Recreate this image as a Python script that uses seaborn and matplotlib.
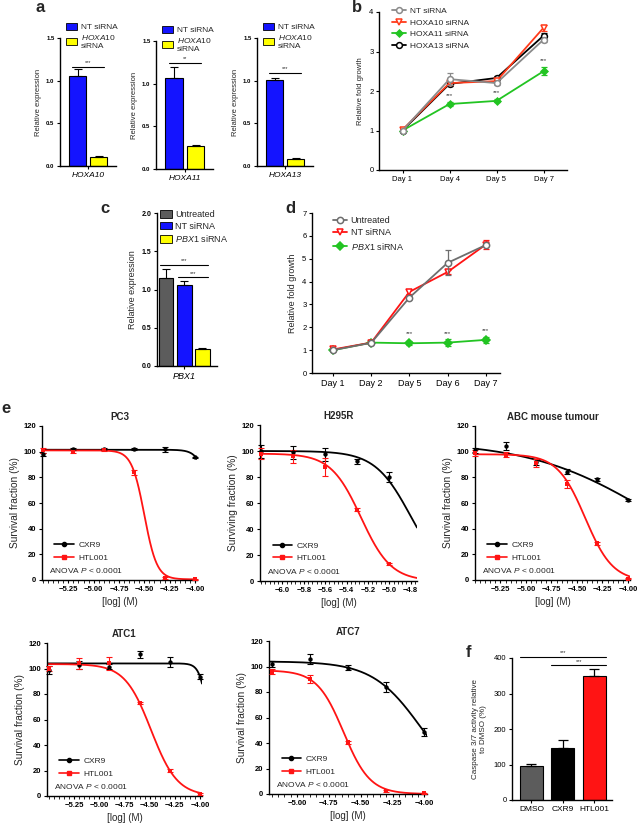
import numpy as np
import pandas as pd
import matplotlib
matplotlib.use("Agg")
import matplotlib.pyplot as plt
import seaborn as sns
from matplotlib.lines import Line2D
from matplotlib.patches import Patch
from matplotlib.container import BarContainer
from matplotlib.ticker import MultipleLocator

sns.set_theme(style="ticks")
plt.rcParams["font.family"] = ["Liberation Sans", "DejaVu Sans"]
plt.rcParams["mathtext.fontset"] = "custom"
plt.rcParams["mathtext.rm"] = "Liberation Sans"
plt.rcParams["mathtext.it"] = "Liberation Sans:italic"
plt.rcParams["mathtext.bf"] = "Liberation Sans:bold"
plt.rcParams["axes.unicode_minus"] = True

# ---------------- data ----------------
# panel a
a_genes = ["HOXA10", "HOXA11", "HOXA13"]
a_conditions = ["NT siRNA", "HOXA10 siRNA"]
a_nt = [1.06, 1.07, 1.01]
a_nt_err = [0.08, 0.13, 0.02]
a_kd = [0.11, 0.27, 0.08]
a_kd_err = [0.006, 0.006, 0.015]
a_sig = ["***", "**", "***"]
a_sig_y = [1.16, 1.24, 1.09]
a_yticks = [0.0, 0.5, 1.0, 1.5]

# panel b
b_days = ["Day 1", "Day 4", "Day 5", "Day 7"]
b_series = ["NT siRNA", "HOXA10 siRNA", "HOXA11 siRNA", "HOXA13 siRNA"]
b_nt = [1.0, 2.3, 2.2, 3.3]
b_nt_err = [0.02, 0.15, 0.05, 0.05]
b_hoxa10 = [1.02, 2.2, 2.25, 3.6]
b_hoxa10_err = [0.02, 0.05, 0.05, 0.08]
b_hoxa11 = [1.0, 1.67, 1.75, 2.5]
b_hoxa11_err = [0.02, 0.04, 0.04, 0.1]
b_hoxa13 = [1.0, 2.18, 2.33, 3.4]
b_hoxa13_err = [0.02, 0.05, 0.04, 0.06]
b_sig_pos = [1, 2, 3]
b_sig_y = [1.82, 1.9, 2.7]

# panel c
c_gene = "PBX1"
c_conditions = ["Untreated", "NT siRNA", "PBX1 siRNA"]
c_vals = [1.15, 1.06, 0.22]
c_err = [0.12, 0.05, 0.02]
c_sig_y = [1.32, 1.16]

# panel d
d_days = ["Day 1", "Day 2", "Day 5", "Day 6", "Day 7"]
d_series = ["Untreated", "NT siRNA", "PBX1 siRNA"]
d_untreated = [1.0, 1.32, 3.3, 4.82, 5.6]
d_untreated_err = [0.03, 0.03, 0.05, 0.55, 0.06]
d_nt = [1.03, 1.33, 3.55, 4.42, 5.62]
d_nt_err = [0.05, 0.03, 0.1, 0.1, 0.2]
d_pbx1 = [1.0, 1.33, 1.3, 1.33, 1.45]
d_pbx1_err = [0.03, 0.03, 0.08, 0.15, 0.12]
d_sig_pos = [2, 3, 4]
d_sig_y = [1.62, 1.62, 1.75]

# panel e  (fit parameters: top, bottom, logIC50, hill slope)
pc3_x = [-5.5, -5.2, -4.9, -4.6, -4.3, -4.0]
pc3_cxr9 = [98, 102, 102, 102, 102, 95.5]
pc3_cxr9_err = [1, 1, 1, 0.5, 2, 0.5]
pc3_htl = [101, 100, 101, 84, 1.5, 0.5]
pc3_htl_err = [2, 1, 0.5, 2, 0.5, 0.5]
pc3_fit_cxr9 = (101.5, 0, -3.83, 7.5)
pc3_fit_htl = (101, 0.5, -4.5, 7.0)

h295_x = [-6.2, -5.9, -5.6, -5.3, -5.0]
h295_cxr9 = [100, 99, 97.5, 92, 80]
h295_cxr9_err = [5, 5, 5, 2, 4]
h295_htl = [98, 96, 87.5, 55, 13]
h295_htl_err = [4, 5, 7, 1, 1]
h295_fit_cxr9 = (100, 0, -4.8, 2.6)
h295_fit_htl = (98, 0, -5.265, 3.08)

abc_x = [-5.5, -5.2, -4.9, -4.6, -4.3, -4.0]
abc_cxr9 = [101, 104.5, 92, 84.5, 78.5, 62.5]
abc_cxr9_err = [2, 3, 2, 2, 1, 1]
abc_htl = [99, 97.5, 91, 75, 28.5, 1]
abc_htl_err = [2, 2, 3, 3, 1, 0.5]
abc_fit_cxr9 = (108, 0, -3.8, 0.74)
abc_fit_htl = (98, -1, -4.42, 3.2)

atc1_x = [-5.5, -5.2, -4.9, -4.6, -4.3, -4.0]
atc1_cxr9 = [99, 103, 101.5, 111, 105, 93.5]
atc1_cxr9_err = [3, 3, 2, 3, 4, 2]
atc1_htl = [100, 104, 104, 73, 20, 1.5]
atc1_htl_err = [2, 4, 5, 1, 1, 0.5]
atc1_fit_cxr9 = (104, 0, -3.909, 10.5)
atc1_fit_htl = (103.5, 0, -4.486, 3.33)

atc7_x = [-5.2, -4.9, -4.6, -4.3, -4.0]
atc7_cxr9 = [102, 106, 99, 84, 48.5]
atc7_cxr9_err = [2, 4, 2, 4, 3]
atc7_htl = [96, 90, 40.5, 2.5, 0.5]
atc7_htl_err = [2, 3, 1, 1, 0.5]
atc7_fit_cxr9 = (104, 0, -4.026, 2.27)
atc7_fit_htl = (97, 0, -4.635, 4.18)

e_xticks = [-5.25, -5.0, -4.75, -4.5, -4.25, -4.0]
h295_xticks = [-6.0, -5.8, -5.6, -5.4, -5.2, -5.0, -4.8]
atc7_xticks = [-5.0, -4.75, -4.5, -4.25, -4.0]
e_yticks = [0, 20, 40, 60, 80, 100, 120]

# panel f
f_groups = ["DMSO", "CXR9", "HTL001"]
f_vals = [97, 147, 348]
f_err = [4, 22, 20]
f_sig_y = [403, 380]
f_yticks = [0, 100, 200, 300, 400]

# ---------------- styling ----------------
BLUE = "#1414ff"
YELLOW = "#ffff00"
GREY = "#5c5c5c"
RED = "#ff1414"
ORANGE_RED = "#ff3a1a"
GREEN = "#22c422"
LGREY = "#8a8a8a"

W, H = 640, 825
fig = plt.figure(figsize=(W / 100, H / 100), dpi=100)


def add_ax(l, t, r, b):
    ax = fig.add_axes([l / W, 1 - b / H, (r - l) / W, (b - t) / H])
    sns.despine(ax=ax)
    for s in ("left", "bottom"):
        ax.spines[s].set_linewidth(1.0)
        ax.spines[s].set_color("black")
    ax.tick_params(direction="out", length=2.5, width=0.8, colors="black", pad=1.5)
    return ax


def bar_list(ax):
    return [p for c in ax.containers if isinstance(c, BarContainer) for p in c]


def bold_ticks(ax):
    for lbl in ax.get_xticklabels() + ax.get_yticklabels():
        lbl.set_fontweight("bold")


def hill(x, top, bottom, logic50, slope):
    return bottom + (top - bottom) / (1 + 10 ** ((np.asarray(x) - logic50) * slope))


# ---------------- panel a ----------------
a_boxes = [(60, 38, 116, 166), (156, 41, 213, 169), (257, 38, 313, 166)]
for i, gene in enumerate(a_genes):
    ax = add_ax(*a_boxes[i])
    df = pd.DataFrame({"gene": [gene, gene], "cond": a_conditions,
                       "val": [a_nt[i], a_kd[i]]})
    sns.barplot(data=df, x="gene", y="val", hue="cond", hue_order=a_conditions,
                palette=[BLUE, YELLOW], saturation=1, width=0.8, gap=0.2,
                edgecolor="black", linewidth=0.8, errorbar=None, legend=False, ax=ax)
    errs = [a_nt_err[i], a_kd_err[i]]
    bars = bar_list(ax)
    for bar, e in zip(bars, errs):
        xc = bar.get_x() + bar.get_width() / 2
        ax.errorbar([xc], [bar.get_height()], yerr=[[0], [e]], fmt="none",
                    ecolor="black", elinewidth=0.8, capsize=3, capthick=0.8)
    x0 = bars[0].get_x() + 0.2 * bars[0].get_width()
    x1 = bars[1].get_x() + 0.8 * bars[1].get_width()
    ax.plot([x0, x1], [a_sig_y[i]] * 2, color="black", lw=0.8)
    ax.text((x0 + x1) / 2, a_sig_y[i] + 0.02, a_sig[i], ha="center", va="bottom",
            fontsize=4)
    ax.set_ylim(0, 1.5)
    ax.set_yticks(a_yticks)
    ax.set_yticklabels([f"{v:.1f}" for v in a_yticks])
    ax.set_xlim(-0.53, 0.52)
    ax.set_xticks([0])
    ax.set_xticklabels([gene], fontstyle="italic", fontsize=6)
    ax.tick_params(axis="y", labelsize=4.3)
    for lbl in ax.get_yticklabels():
        lbl.set_fontweight("bold")
    ax.set_xlabel("")
    ax.set_ylabel("Relative expression", fontsize=5.5, labelpad=3)
    handles = [Patch(facecolor=BLUE, edgecolor="black", lw=0.6),
               Patch(facecolor=YELLOW, edgecolor="black", lw=0.6)]
    ax.legend(handles, ["NT siRNA", r"$\it{HOXA10}$" + "\nsiRNA"],
              loc="upper left", bbox_to_anchor=(0.1, 1.12), frameon=False,
              fontsize=6, handlelength=1.4, handleheight=0.9, labelspacing=0.3,
              borderpad=0, borderaxespad=0, handletextpad=0.4)

# ---------------- panel b ----------------
ax = add_ax(379, 12, 567, 170)
b_pos = np.arange(len(b_days))
b_vals = [b_nt, b_hoxa10, b_hoxa11, b_hoxa13]
b_errs = [b_nt_err, b_hoxa10_err, b_hoxa11_err, b_hoxa13_err]
b_colors = [LGREY, ORANGE_RED, GREEN, "black"]
b_markers = ["o", "v", "D", "o"]
b_mfc = ["white", "white", GREEN, "white"]
b_ms = [4.2, 4.2, 3.5, 4.2]
b_handles = []
for k in [3, 2, 1, 0]:
    ax.errorbar(b_pos, b_vals[k], yerr=b_errs[k], fmt="none", ecolor=b_colors[k],
                elinewidth=0.9, capsize=2.5, capthick=0.9)
    sns.lineplot(x=b_pos, y=b_vals[k], color=b_colors[k], marker=b_markers[k],
                 markerfacecolor=b_mfc[k], markeredgecolor=b_colors[k],
                 markeredgewidth=1.1, markersize=b_ms[k], linewidth=1.3, ax=ax)
for k in range(4):
    b_handles.append(Line2D([], [], color=b_colors[k], marker=b_markers[k],
                            mfc=b_mfc[k], mec=b_colors[k], mew=1.1, ms=b_ms[k], lw=1.3))
for p, yv in zip(b_sig_pos, b_sig_y):
    ax.text(p, yv, "***", ha="center", va="bottom", fontsize=4.5, color="#333333")
ax.set_xlim(-0.5, 3.5)
ax.set_ylim(0, 4)
ax.set_xticks(b_pos)
ax.set_xticklabels(b_days, fontsize=5.5)
ax.set_yticks([0, 1, 2, 3, 4])
ax.tick_params(axis="y", labelsize=5.5)
ax.set_ylabel("Relative fold growth", fontsize=5.5, labelpad=4)
ax.legend(b_handles, b_series, loc="upper left", bbox_to_anchor=(0.07, 1.03),
          frameon=False, fontsize=6, handlelength=1.7, labelspacing=0.45,
          borderpad=0, borderaxespad=0, handletextpad=0.4)

# ---------------- panel c ----------------
ax = add_ax(157, 213, 217, 366)
dfc = pd.DataFrame({"gene": [c_gene] * 3, "cond": c_conditions, "val": c_vals})
sns.barplot(data=dfc, x="gene", y="val", hue="cond", hue_order=c_conditions,
            palette=[GREY, BLUE, YELLOW], saturation=1, width=0.8, gap=0.19,
            edgecolor="black", linewidth=0.8, errorbar=None, legend=False, ax=ax)
c_bars = bar_list(ax)
for bar, e in zip(c_bars, c_err):
    xc = bar.get_x() + bar.get_width() / 2
    ax.errorbar([xc], [bar.get_height()], yerr=[[0], [e]], fmt="none",
                ecolor="black", elinewidth=0.8, capsize=3, capthick=0.8)
for (i0, yv) in zip([0, 1], c_sig_y):
    x0 = c_bars[i0].get_x() + 0.1 * c_bars[i0].get_width()
    x1 = c_bars[2].get_x() + 0.9 * c_bars[2].get_width()
    ax.plot([x0, x1], [yv, yv], color="black", lw=0.8)
    ax.text((x0 + x1) / 2, yv + 0.02, "***", ha="center", va="bottom", fontsize=4)
ax.set_ylim(0, 2.0)
ax.set_yticks([0, 0.5, 1.0, 1.5, 2.0])
ax.set_yticklabels(["0.0", "0.5", "1.0", "1.5", "2.0"])
ax.set_xlim(-0.4, 0.48)
ax.set_xticks([0])
ax.set_xticklabels([c_gene], fontstyle="italic", fontsize=6.5)
ax.tick_params(axis="y", labelsize=5)
for lbl in ax.get_yticklabels():
    lbl.set_fontweight("bold")
ax.set_xlabel("")
ax.set_ylabel("Relative expression", fontsize=6.5, labelpad=3)
c_handles = [Patch(facecolor=col, edgecolor="black", lw=0.6) for col in [GREY, BLUE, YELLOW]]
ax.legend(c_handles, ["Untreated", "NT siRNA", r"$\it{PBX1}$ siRNA"], loc="upper left",
          bbox_to_anchor=(0.05, 1.02), frameon=False, fontsize=6.5, handlelength=1.3,
          handleheight=0.9, labelspacing=0.3, borderpad=0, borderaxespad=0,
          handletextpad=0.4)

# ---------------- panel d ----------------
ax = add_ax(312, 213, 500, 373)
d_pos = np.arange(len(d_days))
d_vals = [d_untreated, d_nt, d_pbx1]
d_errs = [d_untreated_err, d_nt_err, d_pbx1_err]
d_colors = ["#6e6e6e", RED, GREEN]
d_markers = ["o", "v", "D"]
d_mfc = ["white", "white", GREEN]
d_ms = [4.5, 4.5, 3.8]
for k in [2, 1, 0]:
    ax.errorbar(d_pos, d_vals[k], yerr=d_errs[k], fmt="none", ecolor=d_colors[k],
                elinewidth=0.9, capsize=2.5, capthick=0.9)
    sns.lineplot(x=d_pos, y=d_vals[k], color=d_colors[k], marker=d_markers[k],
                 markerfacecolor=d_mfc[k], markeredgecolor=d_colors[k],
                 markeredgewidth=1.1, markersize=d_ms[k], linewidth=1.3, ax=ax)
d_handles = [Line2D([], [], color=d_colors[k], marker=d_markers[k], mfc=d_mfc[k],
                    mec=d_colors[k], mew=1.1, ms=d_ms[k], lw=1.3) for k in range(3)]
for p, yv in zip(d_sig_pos, d_sig_y):
    ax.text(p, yv, "***", ha="center", va="bottom", fontsize=4.5, color="#333333")
ax.set_xlim(-0.55, 4.37)
ax.set_ylim(0, 7)
ax.set_xticks(d_pos)
ax.set_xticklabels(d_days, fontsize=6.5)
ax.set_yticks(range(8))
ax.tick_params(axis="y", labelsize=5.5)
ax.set_ylabel("Relative fold growth", fontsize=6.5, labelpad=4)
ax.legend(d_handles, ["Untreated", "NT siRNA", r"$\it{PBX1}$ siRNA"], loc="upper left",
          bbox_to_anchor=(0.11, 0.98), frameon=False, fontsize=6.5, handlelength=1.6,
          labelspacing=0.35, borderpad=0, borderaxespad=0, handletextpad=0.4)


# ---------------- panel e ----------------
def dose_panel(box, title, ylabel, x, cx, cx_err, ht, ht_err, fit_cx, fit_ht,
               xlim, xticks, minor_step, decimals):
    ax = add_ax(*box)
    grid = np.linspace(xlim[0], xlim[1], 400)
    sns.lineplot(x=grid, y=hill(grid, *fit_cx), color="black", linewidth=1.3, ax=ax)
    sns.lineplot(x=grid, y=hill(grid, *fit_ht), color=RED, linewidth=1.3, ax=ax)
    ax.errorbar(x, cx, yerr=cx_err, fmt="none", ecolor="black", elinewidth=0.8,
                capsize=2, capthick=0.8, zorder=4, clip_on=False)
    ax.errorbar(x, ht, yerr=ht_err, fmt="none", ecolor=RED, elinewidth=0.8,
                capsize=2, capthick=0.8, zorder=4, clip_on=False)
    sns.scatterplot(x=x, y=cx, color="black", marker="o", s=10, linewidth=0,
                    ax=ax, zorder=5, clip_on=False)
    sns.scatterplot(x=x, y=ht, color=RED, marker="s", s=12, linewidth=0,
                    ax=ax, zorder=5, clip_on=False)
    ax.set_xlim(*xlim)
    ax.set_ylim(0, 120)
    ax.set_xticks(xticks)
    ax.set_xticklabels([f"{v:.{decimals}f}".replace("-", "\u2212") for v in xticks])
    ax.xaxis.set_minor_locator(MultipleLocator(minor_step))
    ax.tick_params(axis="x", which="minor", length=1.8, width=0.7)
    ax.set_yticks(e_yticks)
    ax.tick_params(axis="both", which="major", labelsize=5.5)
    bold_ticks(ax)
    ax.set_title(title, fontsize=7, fontweight="bold", pad=4)
    ax.set_xlabel("[log] (M)", fontsize=7, labelpad=3)
    ax.set_ylabel(ylabel, fontsize=7.3, labelpad=3)
    handles = [Line2D([], [], color="black", marker="o", ms=3, lw=1.2),
               Line2D([], [], color=RED, marker="s", ms=3, lw=1.2)]
    ax.legend(handles, ["CXR9", "HTL001"], loc="lower left",
              bbox_to_anchor=(0.08, 0.12), frameon=False, fontsize=6,
              handlelength=2.3, labelspacing=0.55, borderpad=0, borderaxespad=0,
              handletextpad=0.6)
    ax.text(0.045, 0.035, r"ANOVA $\it{P}$ < 0.0001", transform=ax.transAxes,
            fontsize=6, va="bottom", ha="left")
    return ax


e_minor = 0.05
dose_panel((42, 426, 197, 580), "PC3", "Survival fraction (%)", pc3_x, pc3_cxr9,
           pc3_cxr9_err, pc3_htl, pc3_htl_err, pc3_fit_cxr9, pc3_fit_htl,
           (-5.51, -3.98), e_xticks, e_minor, 2)
dose_panel((260, 425, 417, 581), "H295R", "Surviving fraction (%)", h295_x, h295_cxr9,
           h295_cxr9_err, h295_htl, h295_htl_err, h295_fit_cxr9, h295_fit_htl,
           (-6.21, -4.74), h295_xticks, 0.04, 1)
dose_panel((475, 426, 630, 580), "ABC mouse tumour", "Survival fraction (%)", abc_x,
           abc_cxr9, abc_cxr9_err, abc_htl, abc_htl_err, abc_fit_cxr9, abc_fit_htl,
           (-5.5, -3.98), e_xticks, e_minor, 2)
dose_panel((47, 643, 202, 796), "ATC1", "Survival fraction (%)", atc1_x, atc1_cxr9,
           atc1_cxr9_err, atc1_htl, atc1_htl_err, atc1_fit_cxr9, atc1_fit_htl,
           (-5.52, -3.98), e_xticks, e_minor, 2)
dose_panel((269, 641, 427, 794), "ATC7", "Survival fraction (%)", atc7_x, atc7_cxr9,
           atc7_cxr9_err, atc7_htl, atc7_htl_err, atc7_fit_cxr9, atc7_fit_htl,
           (-5.22, -3.98), atc7_xticks, e_minor, 2)

# ---------------- panel f ----------------
ax = add_ax(512, 658, 612, 800)
dff = pd.DataFrame({"grp": f_groups, "val": f_vals})
sns.barplot(data=dff, x="grp", y="val", hue="grp", palette=[GREY, "black", RED],
            saturation=1, width=0.73, edgecolor="black", linewidth=0.8,
            errorbar=None, legend=False, ax=ax)
f_bars = bar_list(ax)
for bar, e in zip(f_bars, f_err):
    xc = bar.get_x() + bar.get_width() / 2
    ax.errorbar([xc], [bar.get_height()], yerr=[[0], [e]], fmt="none", ecolor="black",
                elinewidth=0.9, capsize=3.5, capthick=0.9)
for i0, yv in zip([0, 1], f_sig_y):
    x0 = f_bars[i0].get_x()
    x1 = f_bars[2].get_x() + f_bars[2].get_width()
    ax.plot([x0, x1], [yv, yv], color="black", lw=0.8, clip_on=False)
    ax.text((x0 + x1) / 2, yv + 4, "***", ha="center", va="bottom", fontsize=4)
ax.set_xlim(-0.62, 2.56)
ax.set_ylim(0, 400)
ax.set_yticks(f_yticks)
ax.tick_params(axis="y", labelsize=5.5)
ax.tick_params(axis="x", labelsize=6)
ax.set_xlabel("")
ax.set_ylabel("Caspase 3/7 activity relative\nto DMSO (%)", fontsize=5.8, labelpad=5)

# ---------------- panel letters ----------------
for letter, px, py in [("a", 36, 12), ("b", 352, 12), ("c", 100, 213), ("d", 285, 213),
                       ("e", 1, 413), ("f", 466, 657)]:
    fig.text(px / W, 1 - py / H, letter, fontsize=12, fontweight="bold",
             va="baseline", ha="left")

fig.savefig("out.png", dpi=100)
